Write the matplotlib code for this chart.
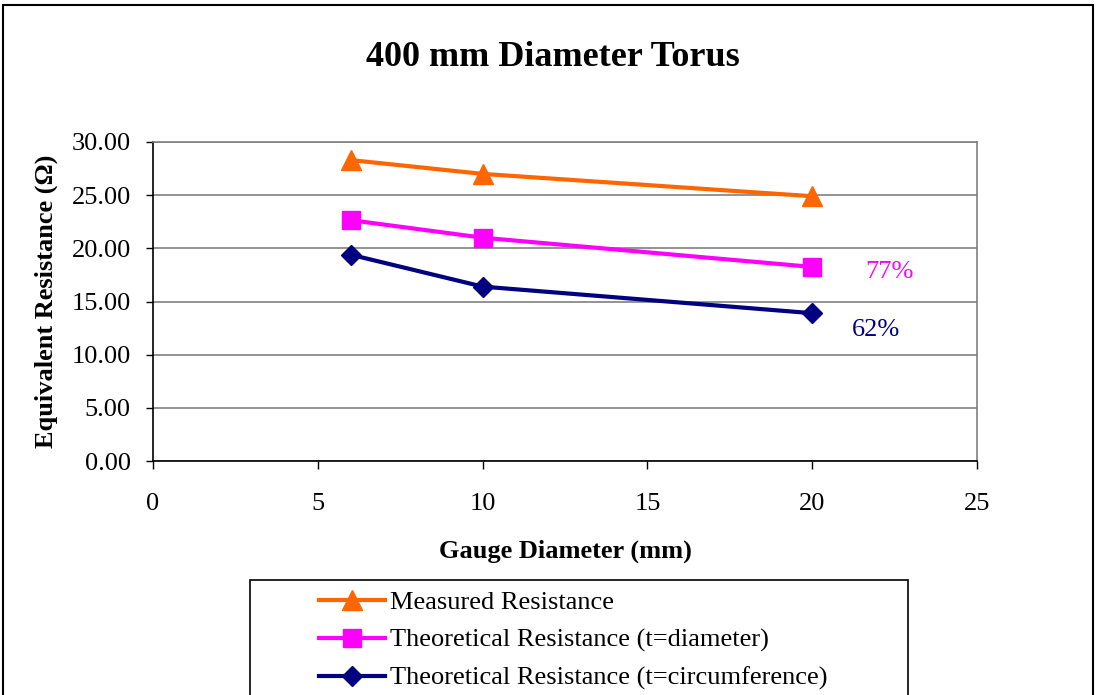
import matplotlib
matplotlib.use('Agg')
import matplotlib.pyplot as plt
from matplotlib.patches import Rectangle
from matplotlib.lines import Line2D

# Data
gauge = [6, 10, 20]
measured = [28.3, 27.0, 24.9]
theo_diameter = [22.65, 21.0, 18.25]
theo_circumference = [19.4, 16.4, 13.9]

labels = ['Measured Resistance',
          'Theoretical Resistance (t=diameter)',
          'Theoretical Resistance (t=circumference)']
pct_labels = ['77%', '62%']

plt.rcParams['font.family'] = ['Liberation Serif', 'DejaVu Serif']

fig = plt.figure(figsize=(10.96, 6.95), dpi=100)
ax = fig.add_axes([153 / 1096, 1 - 461 / 695, 824 / 1096, 319 / 695])

# Horizontal grid
ax.set_axisbelow(True)
ax.yaxis.grid(True, color='#808080', linewidth=1.2)

# Series
ax.plot(gauge, measured, color='#FF6600', lw=3, marker='^', ms=14, clip_on=False)
ax.plot(gauge, theo_diameter, color='#FF00FF', lw=3, marker='s', ms=13, clip_on=False)
ax.plot(gauge, theo_circumference, color='#000080', lw=3, marker='D', ms=10, clip_on=False)

# Percent annotations
ax.text(22.35, 17.8, pct_labels[0], color='#FF00FF', fontsize=19, ha='center', va='center')
ax.text(21.95, 12.3, pct_labels[1], color='#000080', fontsize=19, ha='center', va='center')

# Axes
ax.set_xlim(0, 25)
ax.set_ylim(0, 30)
ax.set_xticks(range(0, 26, 5))
ax.set_yticks(range(0, 31, 5))
ax.set_yticklabels([f'{v:.2f}' for v in range(0, 31, 5)])
ax.tick_params(axis='both', labelsize=19, width=1, color='black')
ax.tick_params(axis='x', length=6, pad=17)
ax.tick_params(axis='y', length=5, pad=11)
ax.spines['top'].set_color('#808080')
ax.spines['right'].set_color('#808080')
for s in ['top', 'right', 'left', 'bottom']:
    ax.spines[s].set_linewidth(1.2)

ax.set_xlabel('Gauge Diameter (mm)', fontsize=19, fontweight='bold', labelpad=18)
ax.set_ylabel('Equivalent Resistance (Ω)', fontsize=19, fontweight='bold', labelpad=10)

fig.text(553 / 1096, 1 - 57 / 695, '400 mm Diameter Torus', fontsize=26, fontweight='bold',
         ha='center', va='center')

# Figure border
fig.patches.append(Rectangle((3 / 1096, -0.01), 1090 / 1096, 1 - 5 / 695 + 0.01,
                             transform=fig.transFigure, fill=False, edgecolor='black', lw=1.5))

# Legend box
fig.patches.append(Rectangle((250 / 1096, -0.05), 658 / 1096, 0.05 + 1 - 580 / 695,
                             transform=fig.transFigure, fill=False, edgecolor='black', lw=1.2))
handles = [Line2D([], [], color='#FF6600', lw=3, marker='^', ms=14),
           Line2D([], [], color='#FF00FF', lw=3, marker='s', ms=13),
           Line2D([], [], color='#000080', lw=3, marker='D', ms=10)]
fig.legend(handles, labels, loc='upper left', bbox_to_anchor=(319 / 1096, 1 - 591 / 695),
           frameon=False, fontsize=19, handlelength=2.5, handletextpad=0.2,
           labelspacing=0.53, borderaxespad=0, borderpad=0)

fig.savefig('out.png', dpi=100)
